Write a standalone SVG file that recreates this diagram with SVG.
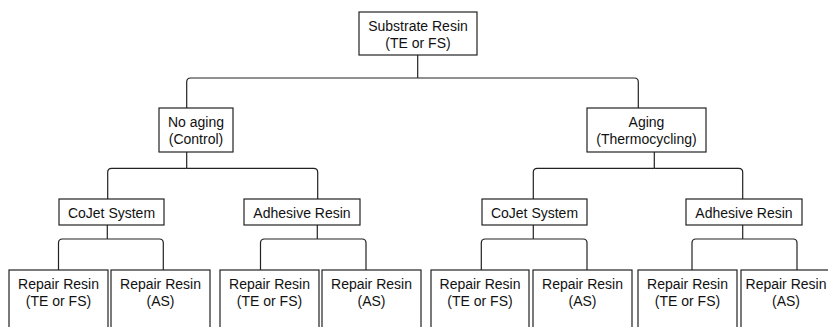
<svg xmlns="http://www.w3.org/2000/svg" width="828" height="327" viewBox="0 0 828 327">
<style>
.box{fill:#fff;stroke:#222;stroke-width:1.2}
.lbl{font-family:"Liberation Sans",Arial,sans-serif;font-size:14px;fill:#111;text-anchor:middle}
.con path{fill:none;stroke:#222;stroke-width:1.2}
</style>
<rect width="828" height="327" fill="#fff"/>
<g class="con" id="connectors">
<path d="M417.7 55 V78"/>
<path d="M417.7 78 H190.7 Q186.7 78 186.7 82 V108"/>
<path d="M417.7 78 H634.3 Q638.3 78 638.3 82 V108"/>
<path d="M186.7 152 V168.3"/>
<path d="M186.7 168.3 H111.7 Q107.7 168.3 107.7 172.3 V199"/>
<path d="M186.7 168.3 H313.7 Q317.7 168.3 317.7 172.3 V199"/>
<path d="M654.3 152 V168.3"/>
<path d="M654.3 168.3 H537.3 Q533.3 168.3 533.3 172.3 V199"/>
<path d="M654.3 168.3 H738.7 Q742.7 168.3 742.7 172.3 V199"/>
<path d="M107.3 225 V239"/>
<path d="M107.3 239 H62.5 Q58.5 239 58.5 243 V270"/>
<path d="M107.3 239 H159.3 Q163.3 239 163.3 243 V270"/>
<path d="M317.3 225 V239"/>
<path d="M317.3 239 H264.5 Q260.5 239 260.5 243 V270"/>
<path d="M317.3 239 H362 Q366 239 366 243 V270"/>
<path d="M533.3 225 V239"/>
<path d="M533.3 239 H485.3 Q481.3 239 481.3 243 V270"/>
<path d="M533.3 239 H583 Q587 239 587 243 V270"/>
<path d="M742.7 225 V239"/>
<path d="M742.7 239 H696 Q692 239 692 243 V270"/>
<path d="M742.7 239 H793 Q797 239 797 243 V270"/>
</g>
<g id="substrate"><rect class="box" x="359" y="12" width="118" height="43"/><text class="lbl" x="418" y="31">Substrate Resin</text><text class="lbl" x="418" y="48">(TE or FS)</text></g>
<g id="noaging"><rect class="box" x="159" y="108" width="74" height="44"/><text class="lbl" x="196" y="127">No aging</text><text class="lbl" x="196" y="144">(Control)</text></g>
<g id="aging"><rect class="box" x="587" y="108" width="119" height="44"/><text class="lbl" x="646.5" y="127">Aging</text><text class="lbl" x="646.5" y="144">(Thermocycling)</text></g>
<g id="cojet1"><rect class="box" x="59" y="199" width="105" height="26"/><text class="lbl" x="111.5" y="218">CoJet System</text></g>
<g id="adhesive1"><rect class="box" x="244" y="199" width="116" height="26"/><text class="lbl" x="302" y="218">Adhesive Resin</text></g>
<g id="cojet2"><rect class="box" x="482" y="199" width="105" height="26"/><text class="lbl" x="534.5" y="218">CoJet System</text></g>
<g id="adhesive2"><rect class="box" x="686" y="199" width="116" height="26"/><text class="lbl" x="744" y="218">Adhesive Resin</text></g>
<g id="repair1"><rect class="box" x="9" y="270" width="99" height="70"/><text class="lbl" x="58.5" y="289">Repair Resin</text><text class="lbl" x="58.5" y="306">(TE or FS)</text></g>
<g id="repair2"><rect class="box" x="111" y="270" width="99" height="70"/><text class="lbl" x="160.5" y="289">Repair Resin</text><text class="lbl" x="160.5" y="306">(AS)</text></g>
<g id="repair3"><rect class="box" x="220" y="270" width="99" height="70"/><text class="lbl" x="269.5" y="289">Repair Resin</text><text class="lbl" x="269.5" y="306">(TE or FS)</text></g>
<g id="repair4"><rect class="box" x="322" y="270" width="99" height="70"/><text class="lbl" x="371.5" y="289">Repair Resin</text><text class="lbl" x="371.5" y="306">(AS)</text></g>
<g id="repair5"><rect class="box" x="431" y="270" width="98" height="70"/><text class="lbl" x="480" y="289">Repair Resin</text><text class="lbl" x="480" y="306">(TE or FS)</text></g>
<g id="repair6"><rect class="box" x="533" y="270" width="99" height="70"/><text class="lbl" x="582.5" y="289">Repair Resin</text><text class="lbl" x="582.5" y="306">(AS)</text></g>
<g id="repair7"><rect class="box" x="638" y="270" width="99" height="70"/><text class="lbl" x="687.5" y="289">Repair Resin</text><text class="lbl" x="687.5" y="306">(TE or FS)</text></g>
<g id="repair8"><rect class="box" x="741" y="270" width="99" height="70"/><text class="lbl" x="786" y="289">Repair Resin</text><text class="lbl" x="786" y="306">(AS)</text></g>
</svg>
